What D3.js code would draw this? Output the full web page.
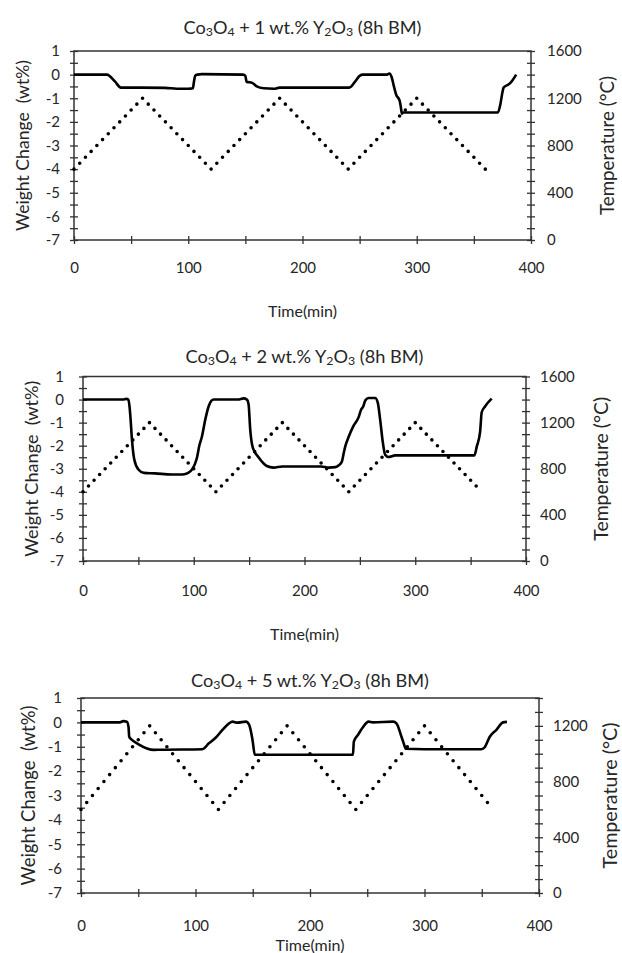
<!DOCTYPE html>
<html>
<head>
<meta charset="utf-8">
<script src="https://cdn.jsdelivr.net/npm/d3@7"></script>
<style>
  html, body { margin: 0; padding: 0; background: #fff; }
  svg { display: block; }
  text { font-family: Lato, "Open Sans", "DejaVu Sans", sans-serif; fill: #262626; }
</style>
</head>
<body>
<svg id="chart" width="622" height="953"></svg>
<script>
// ---------------- DATA ----------------
const titles = ["1", "2", "5"];               // wt.% Y2O3
const xTicks = [0, 100, 200, 300, 400];
const yTicks = [1, 0, -1, -2, -3, -4, -5, -6, -7];
const tempTicks12 = [0, 400, 800, 1200, 1600];
const tempTicks3 = [0, 400, 800, 1200];

// weight change (wt%) vs time (min)
const weight1 = [[0,0],[29,0],[31,-0.05],[36,-0.3],[41,-0.55],[60,-0.55],[80,-0.56],[90,-0.6],[100,-0.6],[104,-0.58],[105,-0.3],[106,-0.05],[108,0],[112,0.02],[148,0],[150,-0.05],[151,-0.3],[156,-0.35],[160,-0.5],[166,-0.58],[175,-0.6],[180,-0.55],[241,-0.55],[246,-0.3],[250,-0.05],[253,0],[274,0],[276,0.05],[278,-0.1],[280,-0.5],[282,-0.85],[285,-1.1],[286,-1.35],[287,-1.65],[288,-1.6],[371,-1.6],[373,-1.3],[375,-0.75],[376,-0.55],[379,-0.45],[382,-0.35],[387,0]];
const weight2 = [[0,0],[36,0],[39,0.03],[41,0],[42,-0.3],[43,-0.87],[44.2,-1.73],[46.3,-2.6],[50,-3.03],[55,-3.18],[65,-3.2],[80,-3.25],[90,-3.25],[95,-3.18],[98.4,-3.03],[101,-2.8],[103,-2.5],[105,-2.0],[107.4,-1.6],[110.4,-0.87],[113.4,-0.3],[116,-0.05],[118,0],[140,0],[145,0.05],[148,0],[149.5,-0.2],[151,-1.3],[153.4,-2.1],[158.5,-2.5],[166,-2.88],[172,-2.95],[180,-2.9],[215,-2.9],[222,-2.95],[228,-2.93],[231,-2.85],[233.7,-2.7],[235.5,-2.3],[237,-2.0],[240,-1.6],[244,-1.16],[249,-0.75],[251,-0.45],[253,-0.3],[255,-0.03],[257.8,0.07],[263.8,0.07],[266.2,-0.14],[268.3,-0.87],[270.8,-1.88],[272.8,-2.39],[275.8,-2.49],[282,-2.42],[353.4,-2.42],[355.6,-2.03],[358.6,-1.38],[360,-0.55],[363,-0.3],[369,0.04]];
const weight3 = [[0,0],[34,0],[37,0.05],[40,0.03],[41.5,-0.18],[42.1,-0.59],[44.5,-0.72],[50.3,-0.9],[57.6,-1.07],[63.5,-1.13],[70,-1.12],[106,-1.1],[111.7,-0.86],[117.6,-0.63],[123.5,-0.31],[129.3,-0.04],[132.3,0.03],[136.7,-0.01],[144,0.03],[146.9,-0.1],[149.8,-0.72],[151.8,-1.33],[237.5,-1.33],[238.3,-0.79],[241.8,-0.52],[246.2,-0.2],[251.1,0.03],[255,0],[272.6,0.03],[275.5,-0.04],[279.9,-0.59],[282.8,-1.0],[283.4,-1.08],[300,-1.1],[349.7,-1.1],[352.6,-1.02],[357,-0.59],[362.8,-0.31],[368.6,0],[372,0.02]];

// temperature (°C) vs time (min)
const temp1 = [[0,600],[60,1200],[120,600],[180,1200],[240,600],[300,1200],[360,600]];
const temp2 = [[0,600],[60,1200],[120,600],[180,1200],[240,600],[300,1200],[356,640]];
const temp3 = [[0,600],[60,1200],[120,600],[180,1200],[240,600],[300,1200],[357,630]];

// ---------------- LAYOUT ----------------
const panels = [
  { pct: titles[0], w: weight1, temp: temp1, tMax: 1600, tTicks: tempTicks12,
    l: 74, r: 531, t: 51, b: 240, titleY: 27, xLabOff: 28, xTitleY: 310, yTitleX: 22, tTitleX: 606, lPad: 10, rPad: 12, yTitleLen: 171, tTitleLen: 139 },
  { pct: titles[1], w: weight2, temp: temp2, tMax: 1600, tTicks: tempTicks12,
    l: 83, r: 526, t: 376.5, b: 561, titleY: 356, xLabOff: 30, xTitleY: 633, yTitleX: 31, tTitleX: 600, lPad: 15, rPad: 10, yTitleLen: 176, tTitleLen: 144 },
  { pct: titles[2], w: weight3, temp: temp3, tMax: 1400, tTicks: tempTicks3,
    l: 81, r: 539, t: 698, b: 893, titleY: 680, xLabOff: 33, xTitleY: 944, yTitleX: 28, tTitleX: 609, lPad: 15, rPad: 10, yTitleLen: 180, tTitleLen: 146 }
];

const svg = d3.select("#chart");
svg.append("rect").attr("width", 622).attr("height", 953).attr("fill", "#fff");

function fitText(sel, len) {
  const node = sel.node();
  const fs = parseFloat(sel.attr("font-size"));
  const cur = node.getComputedTextLength();
  if (cur > 0) sel.attr("font-size", (fs * len / cur).toFixed(2));
}

panels.forEach(p => {
  const g = svg.append("g");
  const x = d3.scaleLinear().domain([0, 400]).range([p.l, p.r]);
  const y = d3.scaleLinear().domain([-7, 1]).range([p.b, p.t]);
  const yT = d3.scaleLinear().domain([0, p.tMax]).range([p.b, p.t]);

  // axes
  const ax = g.append("g").attr("transform", `translate(0,${p.b})`)
    .call(d3.axisBottom(x).tickValues(d3.range(0, 401, 50))
      .tickFormat(d => xTicks.includes(d) ? String(d) : "").tickSizeInner(4).tickSizeOuter(0).tickPadding(p.xLabOff - 10));
  ax.selectAll(".tick line").attr("y1", -4);
  const ay = g.append("g").attr("transform", `translate(${p.l},0)`)
    .call(d3.axisLeft(y).tickValues(d3.range(-7, 1.001, 0.5))
      .tickFormat(d => yTicks.includes(d) ? String(d) : "").tickSizeInner(4).tickSizeOuter(0).tickPadding(p.lPad));
  ay.selectAll(".tick line").attr("x1", 4);
  const ar = g.append("g").attr("transform", `translate(${p.r},0)`)
    .call(d3.axisRight(yT).tickValues(d3.range(0, p.tMax + 1, 100))
      .tickFormat(d => p.tTicks.includes(d) ? String(d) : "").tickSizeInner(4).tickSizeOuter(0).tickPadding(p.rPad));
  ar.selectAll(".tick line").attr("x1", -4);

  [ax, ay, ar].forEach(a => {
    a.select(".domain").remove();
    a.selectAll(".tick line").attr("stroke", "#333").attr("stroke-width", 1.3);
    a.selectAll(".tick text").attr("font-size", 15).attr("fill", "#262626")
      .style("font-family", "Lato, 'Open Sans', sans-serif");
  });

  g.append("rect").attr("x", p.l).attr("y", p.t).attr("width", p.r - p.l).attr("height", p.b - p.t)
    .attr("fill", "none").attr("stroke", "#333").attr("stroke-width", 1.5);

  // temperature dotted line
  const segLen = Math.hypot(x(p.temp[1][0]) - x(p.temp[0][0]), yT(p.temp[1][1]) - yT(p.temp[0][1]));
  g.append("path").datum(p.temp)
    .attr("d", d3.line().x(d => x(d[0])).y(d => yT(d[1])))
    .attr("fill", "none").attr("stroke", "#000").attr("stroke-width", 3.6)
    .attr("stroke-linecap", "round").attr("stroke-dasharray", `0 ${segLen / 12}`);

  // weight line
  g.append("path").datum(p.w)
    .attr("d", d3.line().x(d => x(d[0])).y(d => y(d[1])).curve(d3.curveMonotoneX))
    .attr("fill", "none").attr("stroke", "#000").attr("stroke-width", 2.6)
    .attr("stroke-linejoin", "round");

  // title with subscripts
  const cx = (p.l + p.r) / 2;
  const tt = g.append("text").attr("x", cx).attr("y", p.titleY).attr("text-anchor", "middle")
    .attr("dominant-baseline", "central").attr("font-size", 17);
  const parts = [["Co", 0], ["3", 1], ["O", 0], ["4", 1], [" + " + p.pct + " wt.% Y", 0], ["2", 1], ["O", 0], ["3", 1], [" (8h BM)", 0]];
  let sub = false;
  parts.forEach(([s, isSub]) => {
    const ts = tt.append("tspan").text(s);
    if (isSub && !sub) { ts.attr("dy", "0.3em").attr("font-size", "0.68em"); sub = true; }
    else if (isSub && sub) { ts.attr("font-size", "0.68em"); }
    else if (!isSub && sub) { ts.attr("dy", "-0.204em"); sub = false; }
  });
  fitText(tt, 238);

  // axis titles
  g.append("text").attr("x", cx).attr("y", p.xTitleY).attr("text-anchor", "middle")
    .attr("dominant-baseline", "central").attr("font-size", 16).text("Time(min)");
  const yt = g.append("text").attr("transform", `translate(${p.yTitleX},${(p.t + p.b) / 2}) rotate(-90)`)
    .attr("text-anchor", "middle").attr("dominant-baseline", "central").attr("font-size", 15)
    .style("white-space", "pre").text("Weight Change  (wt%)");
  fitText(yt, p.yTitleLen);
  const tt2 = g.append("text").attr("transform", `translate(${p.tTitleX},${(p.t + p.b) / 2}) rotate(-90)`)
    .attr("text-anchor", "middle").attr("dominant-baseline", "central").attr("font-size", 15)
    .text("Temperature (\u00B0C)");
  fitText(tt2, p.tTitleLen);
});
</script>
</body>
</html>
